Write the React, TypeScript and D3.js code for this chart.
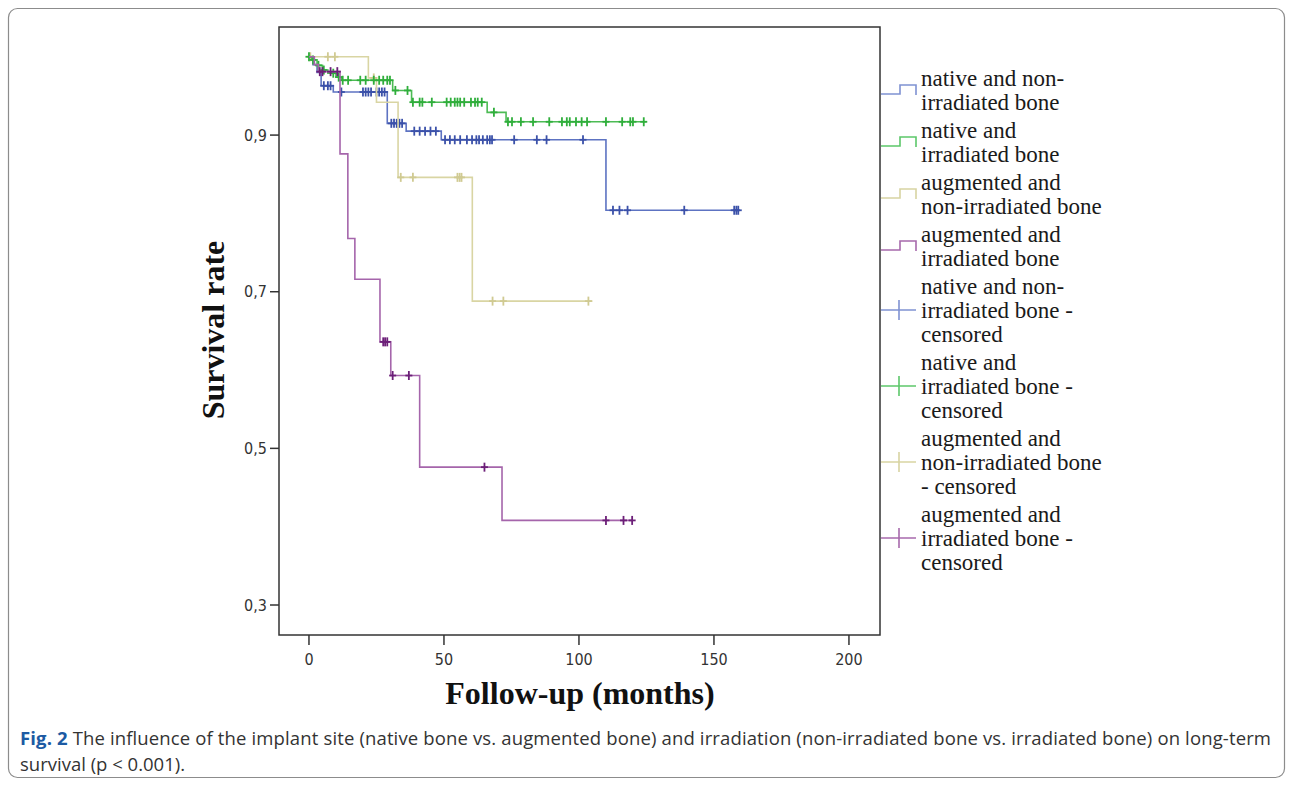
import * as d3 from "d3";

const W = 1292;
const H = 785;

// axis ticks
const xTicks = [0, 50, 100, 150, 200];
const yTicks = [0.3, 0.5, 0.7, 0.9];

// step curves: time (months) of each drop and survival after it
const blueTimes = [0, 1.5, 3, 4.5, 9, 29, 36, 49, 110];
const blueSurv = [1.0, 0.99, 0.98, 0.963, 0.955, 0.915, 0.905, 0.894, 0.804];
const blueEnd = 159;
const blueCens = [5.5, 7, 8, 12, 20, 21, 22, 23, 25, 26, 27, 28, 30.5, 31.5, 32.5, 33.5, 34.5,
  39, 41, 43, 45, 47, 50.4, 52.2, 54, 56, 58.5, 60.4, 62, 63, 64.4, 66, 67, 67.8, 76, 84.4, 88, 101.5,
  112.6, 115, 118, 139, 157.5, 158.3, 159];

const greenTimes = [0, 1, 3, 5, 7, 10, 12, 31, 38, 66, 73];
const greenSurv = [1.0, 0.996, 0.989, 0.983, 0.979, 0.974, 0.97, 0.957, 0.942, 0.929, 0.917];
const greenEnd = 125;
const greenCens = [0, 1.5, 3.5, 5.5, 9, 11, 12.5, 14.5, 19, 21, 24, 26, 27.5, 29, 30, 32, 36.5,
  38.5, 41, 42, 45.5, 51, 52.5, 54, 55, 56, 57.5, 60, 61.5, 62.5, 64, 68.5,
  73.7, 75.2, 78.5, 83, 89, 93.7, 95.5, 96.6, 98.9, 101, 103, 110, 116, 119, 120, 124];

const yellowTimes = [0, 22, 25, 33, 60.5];
const yellowSurv = [1.0, 0.973, 0.942, 0.846, 0.688];
const yellowEnd = 105;
const yellowCens = [0.5, 7, 9.6, 24, 34, 38.5, 55, 55.8, 56.5, 68, 72, 103.5];

const purpleTimes = [0, 2, 3.5, 11.5, 14.4, 17, 26.3, 30.3, 41, 71.5];
const purpleSurv = [1.0, 0.99, 0.981, 0.876, 0.768, 0.716, 0.636, 0.593, 0.476, 0.408];
const purpleEnd = 120;
const purpleCens = [4, 5, 8, 10.5, 27.5, 28.2, 29, 31, 37, 65, 110, 116.5, 119.7];

const legendEvents = [
  ["native and non-", "irradiated bone"],
  ["native and", "irradiated bone"],
  ["augmented and", "non-irradiated bone"],
  ["augmented and", "irradiated bone"],
];
const legendCensored = [
  ["native and non-", "irradiated bone -", "censored"],
  ["native and", "irradiated bone -", "censored"],
  ["augmented and", "non-irradiated bone", "- censored"],
  ["augmented and", "irradiated bone -", "censored"],
];

const series = [
  { times: blueTimes, surv: blueSurv, end: blueEnd, cens: blueCens, line: "#5d73c2", mark: "#3b51a9" },
  { times: yellowTimes, surv: yellowSurv, end: yellowEnd, cens: yellowCens, line: "#d9d5a3", mark: "#d0ca92" },
  { times: greenTimes, surv: greenSurv, end: greenEnd, cens: greenCens, line: "#4dbb55", mark: "#2fae3b" },
  { times: purpleTimes, surv: purpleSurv, end: purpleEnd, cens: purpleCens, line: "#a565ab", mark: "#6c1f78" },
];
const legendColors = ["#7f92d2", "#5cc76a", "#d8d4a2", "#a769ac"];

const box = { left: 279, right: 880, top: 27, bottom: 635 };

export default function App() {
  const x = d3.scaleLinear().domain([-11.1, 211.5]).range([box.left, box.right]);
  const y = d3.scaleLinear().domain([0.2617, 1.038]).range([box.bottom, box.top]);
  const line = d3
    .line<[number, number]>()
    .x((d) => x(d[0]))
    .y((d) => y(d[1]))
    .curve(d3.curveStepAfter);

  const survAt = (s: typeof series[0], t: number) => {
    let v = s.surv[0];
    s.times.forEach((tt, i) => {
      if (tt <= t) v = s.surv[i];
    });
    return v;
  };

  const serif = "'Liberation Serif', 'Times New Roman', serif";
  const sans = "'DejaVu Sans Condensed', 'DejaVu Sans', sans-serif";

  // legend layout
  const lineH = 24;
  const legendItems = [...legendEvents.map((l, i) => ({ lines: l, i, cens: false })),
    ...legendCensored.map((l, i) => ({ lines: l, i, cens: true }))];
  let cursor = 78;
  const placed = legendItems.map((it) => {
    const top = cursor;
    cursor += it.lines.length * lineH + 4;
    return { ...it, top };
  });

  return (
    <svg width={W} height={H} style={{ position: "absolute", left: 0, top: 0, background: "#fff" }}>
      <rect x={8.5} y={8.5} width={1276} height={769} rx={9} fill="#fff" stroke="#8c8c8c" strokeWidth={1.2} />

      {/* curves */}
      {series.map((s, k) => {
        const pts: [number, number][] = s.times.map((t, i) => [t, s.surv[i]] as [number, number]);
        pts.push([s.end, s.surv[s.surv.length - 1]]);
        return (
          <g key={k}>
            <path d={line(pts) ?? ""} fill="none" stroke={s.line} strokeWidth={1.6} />
            {s.cens.map((c, j) => {
              const cx = x(c);
              const cy = y(survAt(s, c));
              return (
                <g key={j} stroke={s.mark} strokeWidth={1.8}>
                  <line x1={cx} x2={cx} y1={cy - 4.5} y2={cy + 4.5} />
                  <line x1={cx - 3.5} x2={cx + 3.5} y1={cy} y2={cy} />
                </g>
              );
            })}
          </g>
        );
      })}

      {/* plot frame */}
      <rect x={box.left} y={box.top} width={box.right - box.left} height={box.bottom - box.top}
        fill="none" stroke="#333" strokeWidth={1.5} />

      {/* y axis */}
      {yTicks.map((t) => (
        <g key={t}>
          <line x1={box.left - 9} x2={box.left} y1={y(t)} y2={y(t)} stroke="#333" strokeWidth={1.5} />
          <text x={box.left - 12} y={y(t)} dy="0.35em" textAnchor="end" fontFamily={sans}
            fontSize={16} fill="#333" style={{ fontStretch: "condensed" }}>
            {d3.format(".1f")(t).replace(".", ",")}
          </text>
        </g>
      ))}
      {/* x axis */}
      {xTicks.map((t) => (
        <g key={t}>
          <line x1={x(t)} x2={x(t)} y1={box.bottom} y2={box.bottom + 10} stroke="#333" strokeWidth={1.5} />
          <text x={x(t)} y={659} dy="0.35em" textAnchor="middle" fontFamily={sans}
            fontSize={16} fill="#333" style={{ fontStretch: "condensed" }}>
            {t}
          </text>
        </g>
      ))}

      <text transform={`translate(224,330) rotate(-90)`} textAnchor="middle" fontFamily={serif}
        fontWeight="bold" fontSize={32} fill="#111">
        Survival rate
      </text>
      <text x={580} y={704} textAnchor="middle" fontFamily={serif} fontWeight="bold" fontSize={32} fill="#111">
        Follow-up (months)
      </text>

      {/* legend */}
      {placed.map((it, k) => {
        const col = legendColors[it.i];
        const mid = it.cens ? it.top + lineH : it.top + lineH / 2;
        return (
          <g key={k}>
            {it.cens ? (
              <g stroke={col} strokeWidth={1.6}>
                <line x1={881} x2={916} y1={mid} y2={mid} />
                <line x1={899} x2={899} y1={mid - 10} y2={mid + 10} />
              </g>
            ) : (
              <path d={`M881,${mid + 4}H900V${mid - 5}H916V${mid + 5}`} fill="none" stroke={col} strokeWidth={1.6} />
            )}
            {it.lines.map((ln, j) => (
              <text key={j} x={921} y={it.top + j * lineH} dy="0.35em" fontFamily={serif}
                fontSize={23} fill="#1a1a1a">
                {ln}
              </text>
            ))}
          </g>
        );
      })}

      {/* caption */}
      <text x={20} y={745} fontFamily="'Open Sans', sans-serif" fontSize={18.5} fill="#333"
        textLength={1251} lengthAdjust="spacing">
        <tspan fontWeight="bold" fill="#1c5aa3">Fig. 2</tspan>
        <tspan> The influence of the implant site (native bone vs. augmented bone) and irradiation (non-irradiated bone vs. irradiated bone) on long-term</tspan>
      </text>
      <text x={20} y={771} fontFamily="'Open Sans', sans-serif" fontSize={18.5} fill="#333">
        survival (p &lt; 0.001).
      </text>
    </svg>
  );
}
